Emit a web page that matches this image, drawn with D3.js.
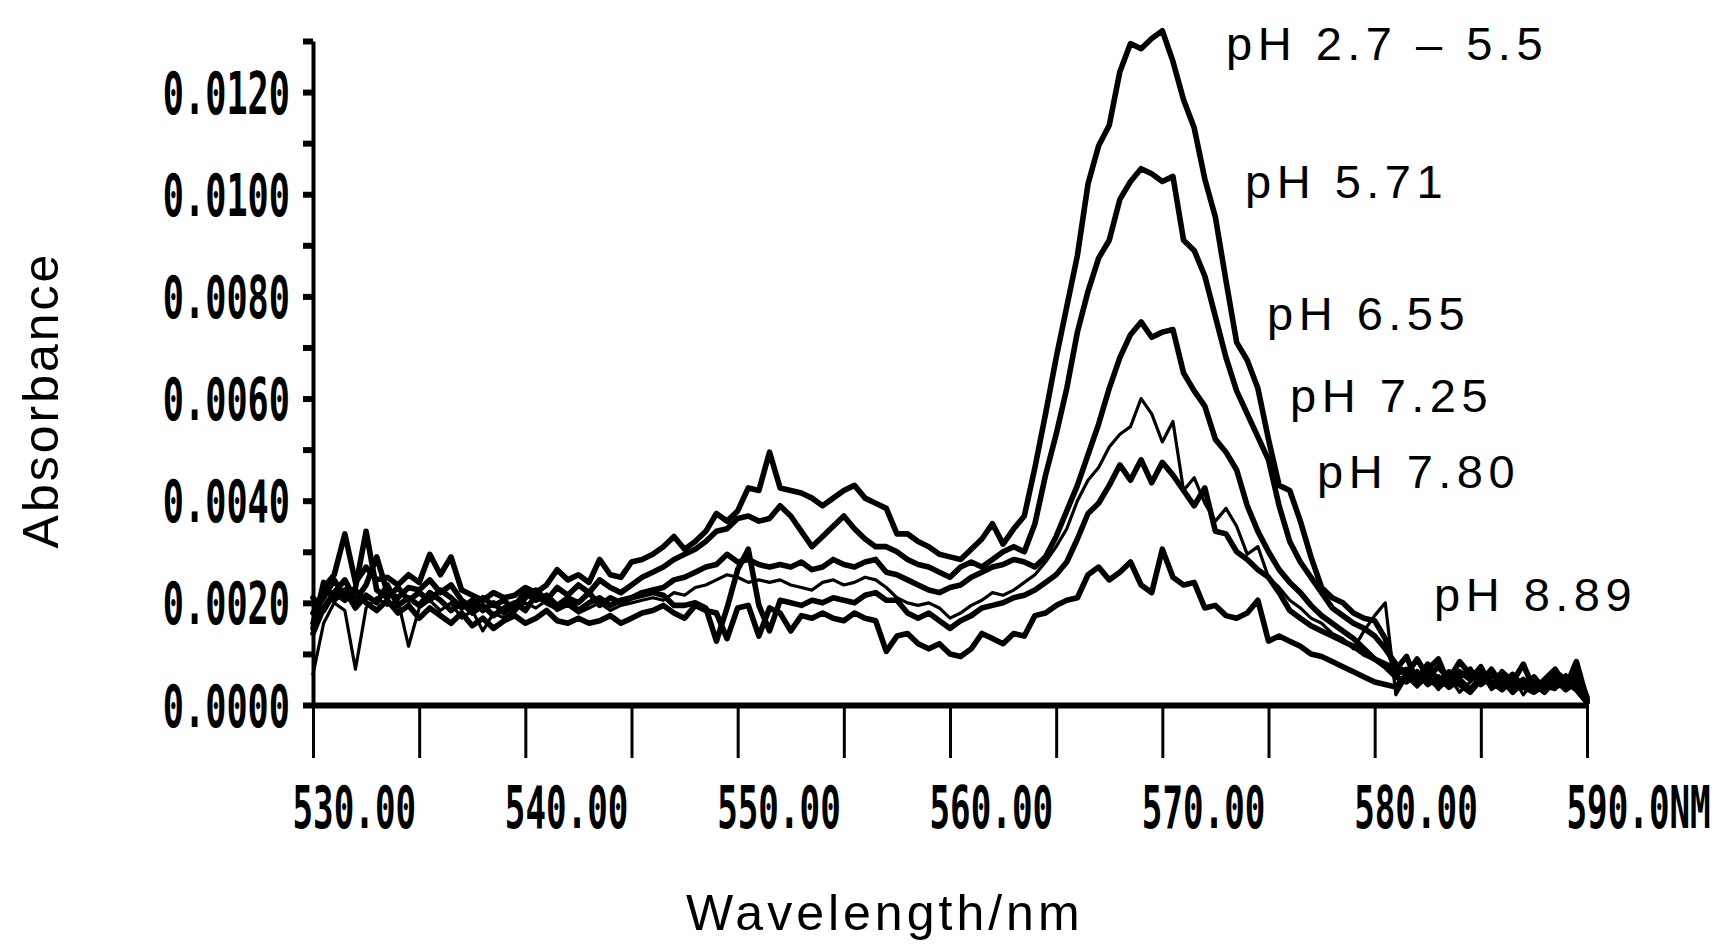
<!DOCTYPE html>
<html><head><meta charset="utf-8">
<script src="https://cdn.jsdelivr.net/npm/d3@7"></script>
<style>
html,body{margin:0;padding:0;background:#fff;}
svg{display:block;}
</style></head>
<body><svg id="chart" width="1717" height="945"></svg>
<script>
// ---------- data ----------
const wavelengths = [
530.0,530.5,531.0,531.5,532.0,532.5,533.0,533.5,534.0,534.5,
535.0,535.5,536.0,536.5,537.0,537.5,538.0,538.5,539.0,539.5,
540.0,540.5,541.0,541.5,542.0,542.5,543.0,543.5,544.0,544.5,
545.0,545.5,546.0,546.5,547.0,547.5,548.0,548.5,549.0,549.5,
550.0,550.5,551.0,551.5,552.0,552.5,553.0,553.5,554.0,554.5,
555.0,555.5,556.0,556.5,557.0,557.5,558.0,558.5,559.0,559.5,
560.0,560.5,561.0,561.5,562.0,562.5,563.0,563.5,564.0,564.5,
565.0,565.5,566.0,566.5,567.0,567.5,568.0,568.5,569.0,569.5,
570.0,570.5,571.0,571.5,572.0,572.5,573.0,573.5,574.0,574.5,
575.0,575.5,576.0,576.5,577.0,577.5,578.0,578.5,579.0,579.5,
580.0,580.5,581.0,581.5,582.0,582.5,583.0,583.5,584.0,584.5,
585.0,585.5,586.0,586.5,587.0,587.5,588.0,588.5,589.0,589.5,
590.0];

const absorbance_pH2_7_5_5 = [
0.00160,0.00230,0.00255,0.00335,0.00240,0.00270,0.00245,0.00250,0.00235,0.00255,
0.00240,0.00295,0.00255,0.00290,0.00225,0.00215,0.00205,0.00220,0.00210,0.00215,
0.00230,0.00220,0.00235,0.00265,0.00245,0.00255,0.00240,0.00285,0.00255,0.00250,
0.00280,0.00285,0.00295,0.00310,0.00330,0.00305,0.00320,0.00340,0.00375,0.00360,
0.00380,0.00425,0.00420,0.00495,0.00425,0.00420,0.00415,0.00405,0.00390,0.00405,
0.00420,0.00430,0.00405,0.00395,0.00385,0.00335,0.00335,0.00320,0.00310,0.00295,
0.00290,0.00285,0.00305,0.00325,0.00355,0.00315,0.00345,0.00370,0.00465,0.00570,
0.00680,0.00780,0.00880,0.01020,0.01095,0.01135,0.01240,0.01295,0.01285,0.01305,
0.01320,0.01260,0.01185,0.01130,0.01030,0.00955,0.00830,0.00710,0.00675,0.00620,
0.00520,0.00430,0.00420,0.00360,0.00290,0.00230,0.00210,0.00200,0.00180,0.00170,
0.00165,0.00130,0.00060,0.00070,0.00050,0.00080,0.00045,0.00065,0.00055,0.00070,
0.00040,0.00055,0.00060,0.00035,0.00050,0.00030,0.00045,0.00060,0.00040,0.00070,
0.00015];

const absorbance_pH5_71 = [
0.00210,0.00185,0.00220,0.00245,0.00205,0.00235,0.00290,0.00220,0.00210,0.00230,
0.00225,0.00245,0.00220,0.00235,0.00205,0.00190,0.00210,0.00195,0.00205,0.00185,
0.00210,0.00225,0.00205,0.00230,0.00215,0.00235,0.00220,0.00245,0.00230,0.00220,
0.00235,0.00250,0.00260,0.00270,0.00285,0.00295,0.00305,0.00320,0.00340,0.00345,
0.00365,0.00370,0.00360,0.00365,0.00390,0.00370,0.00340,0.00310,0.00330,0.00350,
0.00370,0.00345,0.00325,0.00310,0.00310,0.00300,0.00285,0.00275,0.00270,0.00260,
0.00250,0.00270,0.00280,0.00270,0.00285,0.00300,0.00310,0.00300,0.00355,0.00450,
0.00530,0.00620,0.00730,0.00810,0.00875,0.00910,0.00990,0.01025,0.01050,0.01040,
0.01025,0.01035,0.00910,0.00890,0.00840,0.00760,0.00680,0.00615,0.00570,0.00525,
0.00480,0.00390,0.00320,0.00280,0.00250,0.00220,0.00190,0.00175,0.00160,0.00150,
0.00135,0.00110,0.00080,0.00060,0.00090,0.00055,0.00075,0.00050,0.00085,0.00060,
0.00045,0.00070,0.00040,0.00060,0.00035,0.00055,0.00030,0.00065,0.00050,0.00055,
0.00010];

const absorbance_pH6_55 = [
0.00150,0.00240,0.00205,0.00225,0.00190,0.00215,0.00200,0.00235,0.00195,0.00210,
0.00195,0.00220,0.00205,0.00185,0.00200,0.00180,0.00195,0.00175,0.00190,0.00200,
0.00185,0.00215,0.00200,0.00190,0.00205,0.00185,0.00200,0.00210,0.00195,0.00205,
0.00210,0.00220,0.00225,0.00230,0.00245,0.00250,0.00260,0.00270,0.00275,0.00295,
0.00280,0.00285,0.00275,0.00270,0.00275,0.00270,0.00280,0.00265,0.00270,0.00285,
0.00275,0.00270,0.00280,0.00285,0.00260,0.00255,0.00245,0.00235,0.00225,0.00220,
0.00230,0.00235,0.00250,0.00260,0.00270,0.00275,0.00285,0.00280,0.00270,0.00290,
0.00330,0.00380,0.00430,0.00490,0.00550,0.00620,0.00680,0.00725,0.00750,0.00720,
0.00730,0.00735,0.00650,0.00615,0.00585,0.00520,0.00495,0.00460,0.00390,0.00340,
0.00300,0.00265,0.00240,0.00220,0.00195,0.00175,0.00160,0.00145,0.00130,0.00110,
0.00090,0.00075,0.00055,0.00045,0.00065,0.00040,0.00055,0.00035,0.00050,0.00030,
0.00055,0.00040,0.00050,0.00025,0.00045,0.00040,0.00025,0.00050,0.00030,0.00045,
0.00005];

const absorbance_pH7_25 = [
0.00060,0.00160,0.00200,0.00185,0.00070,0.00190,0.00210,0.00195,0.00205,0.00115,
0.00190,0.00205,0.00185,0.00200,0.00170,0.00185,0.00145,0.00180,0.00170,0.00185,
0.00200,0.00190,0.00205,0.00185,0.00195,0.00180,0.00190,0.00200,0.00185,0.00195,
0.00200,0.00205,0.00210,0.00205,0.00220,0.00215,0.00230,0.00235,0.00245,0.00255,
0.00250,0.00240,0.00245,0.00240,0.00245,0.00235,0.00230,0.00225,0.00240,0.00245,
0.00235,0.00240,0.00250,0.00245,0.00230,0.00210,0.00200,0.00195,0.00200,0.00190,
0.00170,0.00180,0.00195,0.00205,0.00220,0.00215,0.00225,0.00240,0.00255,0.00280,
0.00310,0.00345,0.00400,0.00440,0.00465,0.00505,0.00530,0.00545,0.00600,0.00570,
0.00515,0.00555,0.00420,0.00445,0.00395,0.00360,0.00385,0.00350,0.00295,0.00310,
0.00250,0.00230,0.00205,0.00190,0.00170,0.00160,0.00140,0.00130,0.00110,0.00145,
0.00175,0.00200,0.00020,0.00055,0.00035,0.00060,0.00030,0.00055,0.00025,0.00045,
0.00065,0.00030,0.00045,0.00055,0.00020,0.00045,0.00035,0.00030,0.00060,0.00040,
0.00005];

const absorbance_pH7_80 = [
0.00180,0.00210,0.00245,0.00210,0.00230,0.00340,0.00225,0.00210,0.00230,0.00205,
0.00220,0.00205,0.00225,0.00210,0.00190,0.00205,0.00185,0.00200,0.00180,0.00195,
0.00220,0.00205,0.00215,0.00195,0.00210,0.00200,0.00220,0.00195,0.00210,0.00200,
0.00210,0.00215,0.00220,0.00215,0.00195,0.00195,0.00200,0.00190,0.00125,0.00190,
0.00265,0.00305,0.00195,0.00145,0.00205,0.00200,0.00195,0.00205,0.00200,0.00210,
0.00205,0.00200,0.00215,0.00220,0.00205,0.00205,0.00180,0.00170,0.00180,0.00165,
0.00150,0.00165,0.00175,0.00190,0.00195,0.00200,0.00210,0.00215,0.00225,0.00240,
0.00255,0.00280,0.00325,0.00375,0.00395,0.00430,0.00470,0.00440,0.00480,0.00435,
0.00475,0.00450,0.00420,0.00390,0.00425,0.00340,0.00335,0.00300,0.00285,0.00265,
0.00250,0.00220,0.00185,0.00170,0.00155,0.00145,0.00135,0.00125,0.00115,0.00100,
0.00090,0.00080,0.00070,0.00095,0.00045,0.00070,0.00090,0.00040,0.00065,0.00050,
0.00075,0.00035,0.00065,0.00045,0.00080,0.00030,0.00050,0.00070,0.00035,0.00085,
0.00010];

const absorbance_pH8_89 = [
0.00140,0.00190,0.00220,0.00205,0.00225,0.00200,0.00185,0.00205,0.00180,0.00195,
0.00170,0.00190,0.00175,0.00160,0.00180,0.00155,0.00170,0.00150,0.00165,0.00175,
0.00160,0.00170,0.00185,0.00165,0.00160,0.00170,0.00160,0.00165,0.00175,0.00160,
0.00170,0.00180,0.00185,0.00195,0.00180,0.00170,0.00195,0.00185,0.00180,0.00130,
0.00190,0.00195,0.00135,0.00190,0.00180,0.00145,0.00175,0.00170,0.00180,0.00170,
0.00165,0.00180,0.00170,0.00165,0.00105,0.00135,0.00140,0.00120,0.00110,0.00120,
0.00100,0.00095,0.00110,0.00140,0.00130,0.00120,0.00140,0.00135,0.00175,0.00180,
0.00195,0.00205,0.00210,0.00255,0.00270,0.00245,0.00260,0.00280,0.00235,0.00220,
0.00305,0.00250,0.00235,0.00240,0.00190,0.00195,0.00175,0.00170,0.00180,0.00205,
0.00125,0.00135,0.00125,0.00115,0.00100,0.00095,0.00085,0.00075,0.00065,0.00055,
0.00045,0.00040,0.00035,0.00060,0.00040,0.00055,0.00035,0.00050,0.00040,0.00025,
0.00050,0.00045,0.00030,0.00050,0.00035,0.00025,0.00040,0.00035,0.00045,0.00030,
0.00005];

const seriesNames = ["pH 2.7 \u2013 5.5","pH 5.71","pH 6.55","pH 7.25","pH 7.80","pH 8.89"];
const xTickValues = [530,535,540,545,550,555,560,565,570,575,580,585,590];
const xTickLabels = ["530.00","","540.00","","550.00","","560.00","","570.00","","580.00","","590.0NM"];
const yTickValues = [0,0.001,0.002,0.003,0.004,0.005,0.006,0.007,0.008,0.009,0.010,0.011,0.012,0.013];
const yTickLabels = ["0.0000","","0.0020","","0.0040","","0.0060","","0.0080","","0.0100","","0.0120",""];

// ---------- layout ----------
const labelPos = [[1226,60],[1245,198],[1267,330],[1290,412],[1317,488],[1434,611]];
const allSeries = [absorbance_pH2_7_5_5, absorbance_pH5_71, absorbance_pH6_55,
                   absorbance_pH7_25, absorbance_pH7_80, absorbance_pH8_89];

const svg = d3.select("#chart");
svg.append("rect").attr("width",1717).attr("height",945).attr("fill","#fff");

const x = d3.scaleLinear().domain([530,590]).range([313,1587]);
const y = d3.scaleLinear().domain([0,0.013]).range([705,41]);

const tickFont = "'DejaVu Sans Mono', 'Liberation Mono', monospace";
const tickFontSize = 35;
const vStretch = 1.68;

function styleTickText(sel, dx, dy, anchor, charW){
  sel.attr("x",0).attr("y",0).attr("dy",null).attr("text-anchor",anchor)
    .attr("transform",`translate(${dx},${dy}) scale(1,${vStretch})`)
    .attr("font-family",tickFont).attr("font-weight","bold")
    .attr("font-size",tickFontSize).attr("fill","#000")
    .each(function(){ const t=d3.select(this).text(); if(t){ d3.select(this).attr("textLength",t.length*charW).attr("lengthAdjust","spacingAndGlyphs"); } });
}

// x axis
const gx = svg.append("g").attr("transform","translate(0,705)")
  .call(d3.axisBottom(x).tickValues(xTickValues).tickSize(53).tickSizeOuter(0)
        .tickFormat((d,i)=>xTickLabels[i]));
gx.select(".domain").attr("stroke","#000").attr("stroke-width",6);
gx.selectAll(".tick line").attr("stroke","#000").attr("stroke-width",3);
styleTickText(gx.selectAll(".tick text"), -21, 123, "start", 20.6);

// y axis
const gy = svg.append("g").attr("transform","translate(313,0)")
  .call(d3.axisLeft(y).tickValues(yTickValues).tickSize(10).tickSizeOuter(0)
        .tickFormat((d,i)=>yTickLabels[i]));
gy.select(".domain").attr("stroke","#000").attr("stroke-width",4);
gy.selectAll(".tick line").attr("stroke","#000").attr("stroke-width",6);
styleTickText(gy.selectAll(".tick text"), -23, 21, "end", 21.2);

// spectra
const line = d3.line().x((d,i)=>x(wavelengths[i])).y(d=>y(d));
svg.append("g").selectAll("path").data(allSeries).join("path")
  .attr("d",line).attr("fill","none").attr("stroke","#000")
  .attr("stroke-width",(d,i)=> i===3 ? 3.2 : 5.6)
  .attr("stroke-linejoin","round").attr("stroke-linecap","round");

// series labels
svg.append("g").selectAll("text").data(seriesNames).join("text")
  .attr("x",(d,i)=>labelPos[i][0]).attr("y",(d,i)=>labelPos[i][1])
  .attr("font-family","'Liberation Sans', Arial, sans-serif").attr("font-size",47)
  .attr("letter-spacing",5.5).attr("fill","#000").text(d=>d);

// axis titles
svg.append("text").attr("x",686).attr("y",930)
  .attr("font-family","'Liberation Sans', Arial, sans-serif").attr("font-size",50)
  .attr("letter-spacing",4).attr("fill","#000").text("Wavelength/nm");
svg.append("text").attr("transform","translate(58,400) rotate(-90)")
  .attr("text-anchor","middle")
  .attr("font-family","'Liberation Sans', Arial, sans-serif").attr("font-size",50)
  .attr("letter-spacing",3).attr("fill","#000").text("Absorbance");
</script>
</body></html>
